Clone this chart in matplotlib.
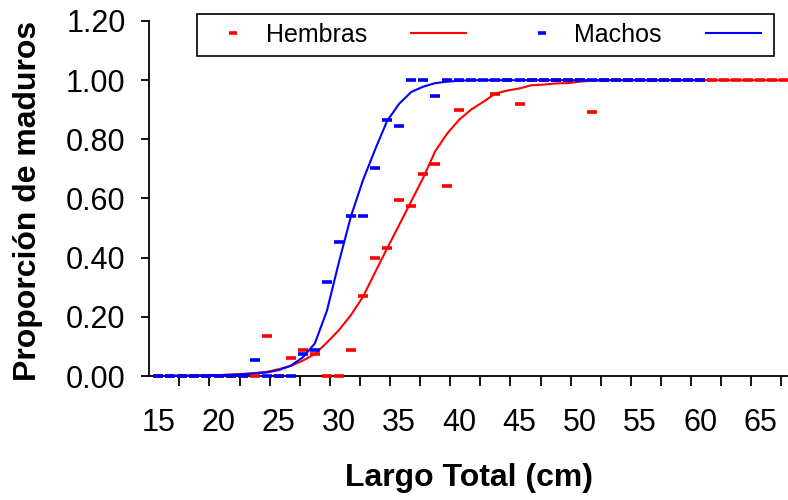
import matplotlib
matplotlib.use("Agg")
import matplotlib.pyplot as plt
from matplotlib.lines import Line2D

plt.rcParams['font.family'] = ['Liberation Sans', 'DejaVu Sans']

# observed proportions (Hembras)
hem_x = [15, 16, 17, 18, 19, 20, 21, 22, 23, 24, 25, 26, 27, 28, 29, 30, 31, 32, 33, 34,
         35, 36, 37, 38, 39, 40, 43, 44, 45, 46, 47, 48, 49, 50, 51,
         52, 53, 54, 55, 56, 57, 58, 59, 60, 61, 62, 63, 64, 65, 66, 67]
hem_y = [0, 0, 0, 0, 0, 0, 0, 0, 0, 0.135, 0, 0.061, 0.088, 0.074, 0, 0, 0.088, 0.27, 0.40, 0.432,
         0.595, 0.574, 0.682, 0.716, 0.642, 0.899, 0.953, 1.0, 0.919, 1.0, 1.0, 1.0, 1.0, 1.0, 0.892,
         1.0, 1.0, 1.0, 1.0, 1.0, 1.0, 1.0, 1.0, 1.0, 1.0, 1.0, 1.0, 1.0, 1.0, 1.0, 1.0]

# observed proportions (Machos)
mac_x = [15, 16, 17, 18, 19, 20, 21, 22, 23, 24, 25, 26, 27, 28, 29, 30, 31, 32, 33, 34,
         35, 36, 37, 38, 39, 40, 41, 42, 43, 44, 45, 46, 47, 48, 49, 50,
         51, 52, 53, 54, 55, 56, 57, 58, 59, 60]
mac_y = [0, 0, 0, 0, 0, 0, 0, 0, 0.054, 0, 0, 0, 0.074, 0.088, 0.317, 0.452, 0.541, 0.541, 0.703, 0.865,
         0.845, 1.0, 1.0, 0.946, 1.0, 1.0, 1.0, 1.0, 1.0, 1.0, 1.0, 1.0, 1.0, 1.0, 1.0, 1.0,
         1.0, 1.0, 1.0, 1.0, 1.0, 1.0, 1.0, 1.0, 1.0, 1.0]

# fitted curves
hem_fit_x = list(range(15, 68))
hem_fit_y = [0.000, 0.001, 0.001, 0.002, 0.002, 0.003, 0.005, 0.007, 0.010, 0.014,
             0.023, 0.034, 0.052, 0.074, 0.113, 0.155, 0.206, 0.268, 0.350, 0.431,
             0.510, 0.590, 0.670, 0.760, 0.820, 0.867, 0.901, 0.927, 0.955, 0.965,
             0.972, 0.983, 0.985, 0.989, 0.990, 0.995, 0.998, 1.0, 1.0, 1.0,
             1.0, 1.0, 1.0, 1.0, 1.0, 1.0, 1.0, 1.0, 1.0, 1.0,
             1.0, 1.0, 1.0]
mac_fit_x = list(range(15, 61))
mac_fit_y = [0.000, 0.000, 0.001, 0.001, 0.002, 0.003, 0.004, 0.006, 0.009, 0.012,
             0.020, 0.035, 0.063, 0.110, 0.220, 0.385, 0.540, 0.662, 0.765, 0.862,
             0.920, 0.960, 0.978, 0.990, 0.995, 0.998, 1.0, 1.0, 1.0, 1.0,
             1.0, 1.0, 1.0, 1.0, 1.0, 1.0, 1.0, 1.0, 1.0, 1.0,
             1.0, 1.0, 1.0, 1.0, 1.0, 1.0]

x_labels = [15, 20, 25, 30, 35, 40, 45, 50, 55, 60, 65]
x_tickmarks = [16.75 + 2.5 * i for i in range(21)]
y_ticks = [0.0, 0.2, 0.4, 0.6, 0.8, 1.0, 1.2]

RED = '#ff0000'
BLUE = '#0000ff'

fig = plt.figure(figsize=(7.88, 5.0), dpi=100)
ax = fig.add_axes([149.3 / 788, 124 / 500, 1 - 149.3 / 788, 355 / 500])

mk = dict(linestyle='none', marker='_', markersize=6.5, markeredgewidth=2.6, clip_on=False, zorder=5)
ax.plot(hem_x, hem_y, color=RED, **mk)
ax.plot(hem_fit_x, hem_fit_y, color=RED, lw=1.5, zorder=4)
ax.plot(mac_x, mac_y, color=BLUE, **mk)
ax.plot(mac_fit_x, mac_fit_y, color=BLUE, lw=1.5, zorder=6)

ax.set_xlim(14.25, 67.3)
ax.set_ylim(0, 1.2)
for s in ['top', 'right']:
    ax.spines[s].set_visible(False)
for s in ['left', 'bottom']:
    ax.spines[s].set_linewidth(1.3)

ax.set_xticks(x_labels)
ax.set_xticklabels([str(v) for v in x_labels])
ax.set_xticks(x_tickmarks, minor=True)
ax.tick_params(axis='x', which='major', length=0, pad=23, labelsize=22)
ax.tick_params(axis='x', which='minor', length=7, width=1.3, direction='out')
ax.set_yticks(y_ticks)
ax.set_yticklabels([f"{v:.2f}" for v in y_ticks])
ax.tick_params(axis='y', length=6, width=1.3, pad=11, labelsize=22)

ax.set_xlabel('Largo Total (cm)', fontsize=23, fontweight='bold')
ax.xaxis.set_label_coords(0.501, -0.287)
ax.xaxis.label.set_verticalalignment('center')
ax.set_ylabel('Proporción de maduros', fontsize=23, fontweight='bold')
ax.yaxis.set_label_coords(-0.19, 0.493)
ax.yaxis.label.set_verticalalignment('center')

handles = [
    Line2D([], [], color=RED, linestyle='none', marker='_', markersize=6, markeredgewidth=2.6),
    Line2D([], [], color=RED, lw=1.5),
    Line2D([], [], color=BLUE, linestyle='none', marker='_', markersize=6, markeredgewidth=2.6),
    Line2D([], [], color=BLUE, lw=1.5),
]
leg = fig.legend(handles, ['Hembras', '', 'Machos', ''], ncol=4, loc='center',
                 bbox_to_anchor=(485.5 / 788, 1 - 35 / 500), fontsize=18,
                 handlelength=2.2, handletextpad=0.2, columnspacing=1.75,
                 borderpad=0.35, fancybox=False, framealpha=1, edgecolor='black',
                 numpoints=1)
leg.get_frame().set_linewidth(1.2)

fig.savefig('out.png', dpi=100)
